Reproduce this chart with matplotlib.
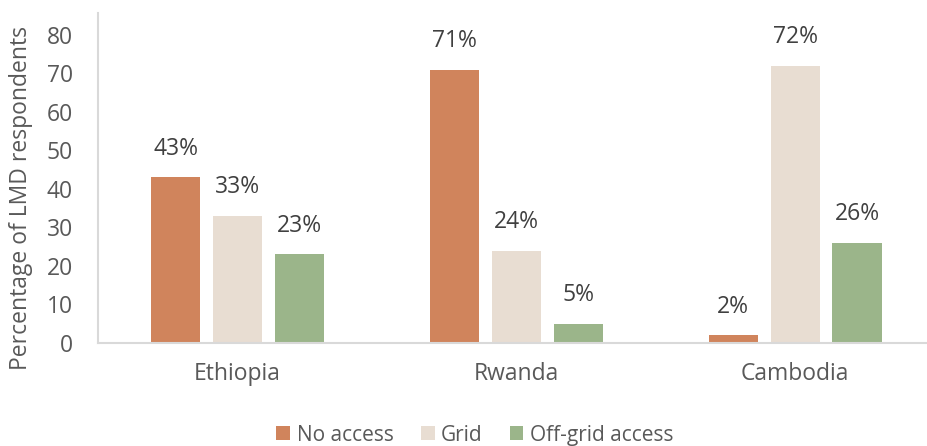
import numpy as np
import matplotlib.pyplot as plt

plt.rcParams['font.family'] = ['Open Sans', 'DejaVu Sans']

countries = ['Ethiopia', 'Rwanda', 'Cambodia']
series = ['No access', 'Grid', 'Off-grid access']
no_access = [43, 71, 2]
grid = [33, 24, 72]
off_grid = [23, 5, 26]
colors = ['#D0845C', '#E8DDD2', '#9BB58A']
txt = '#595959'

fig = plt.figure(figsize=(9.28, 4.46), dpi=100)
ax = fig.add_axes([98 / 928, 1 - 343 / 446, 1 - 98 / 928, 330 / 446])

x = np.arange(len(countries))
w = 0.176
step = 0.222
for i, (vals, c, name) in enumerate(zip([no_access, grid, off_grid], colors, series)):
    pos = x + (i - 1) * step
    bars = ax.bar(pos, vals, w, color=c, label=name)
    for b, v in zip(bars, vals):
        ax.text(b.get_x() + b.get_width() / 2, v + 4.3, f'{v}%', ha='center', va='bottom',
                fontsize=16.5, color='#404040')

ax.set_xlim(-0.5, 2.5 - 6.5 / 279)
ax.set_ylim(0, 85.7)
ax.set_yticks(range(0, 81, 10))
ax.set_xticks(x)
ax.set_xticklabels(countries)
ax.tick_params(axis='both', length=0, labelsize=16.5, colors=txt)
ax.tick_params(axis='x', pad=14)
ax.tick_params(axis='y', pad=18)
for s in ['top', 'right']:
    ax.spines[s].set_visible(False)
for s in ['left', 'bottom']:
    ax.spines[s].set_color('#D9D9D9')
    ax.spines[s].set_linewidth(1.5)
ax.set_ylabel('Percentage of LMD respondents', fontsize=16.5, color=txt)
ax.yaxis.set_label_coords(-0.078, 0.44)

ax.legend(loc='center', bbox_to_anchor=(0.454, -0.279), ncol=3, frameon=False,
          fontsize=15, labelcolor=txt, handlelength=0.67, handleheight=0.67,
          handletextpad=0.3, columnspacing=1.3)

fig.savefig('out.png', dpi=100)
